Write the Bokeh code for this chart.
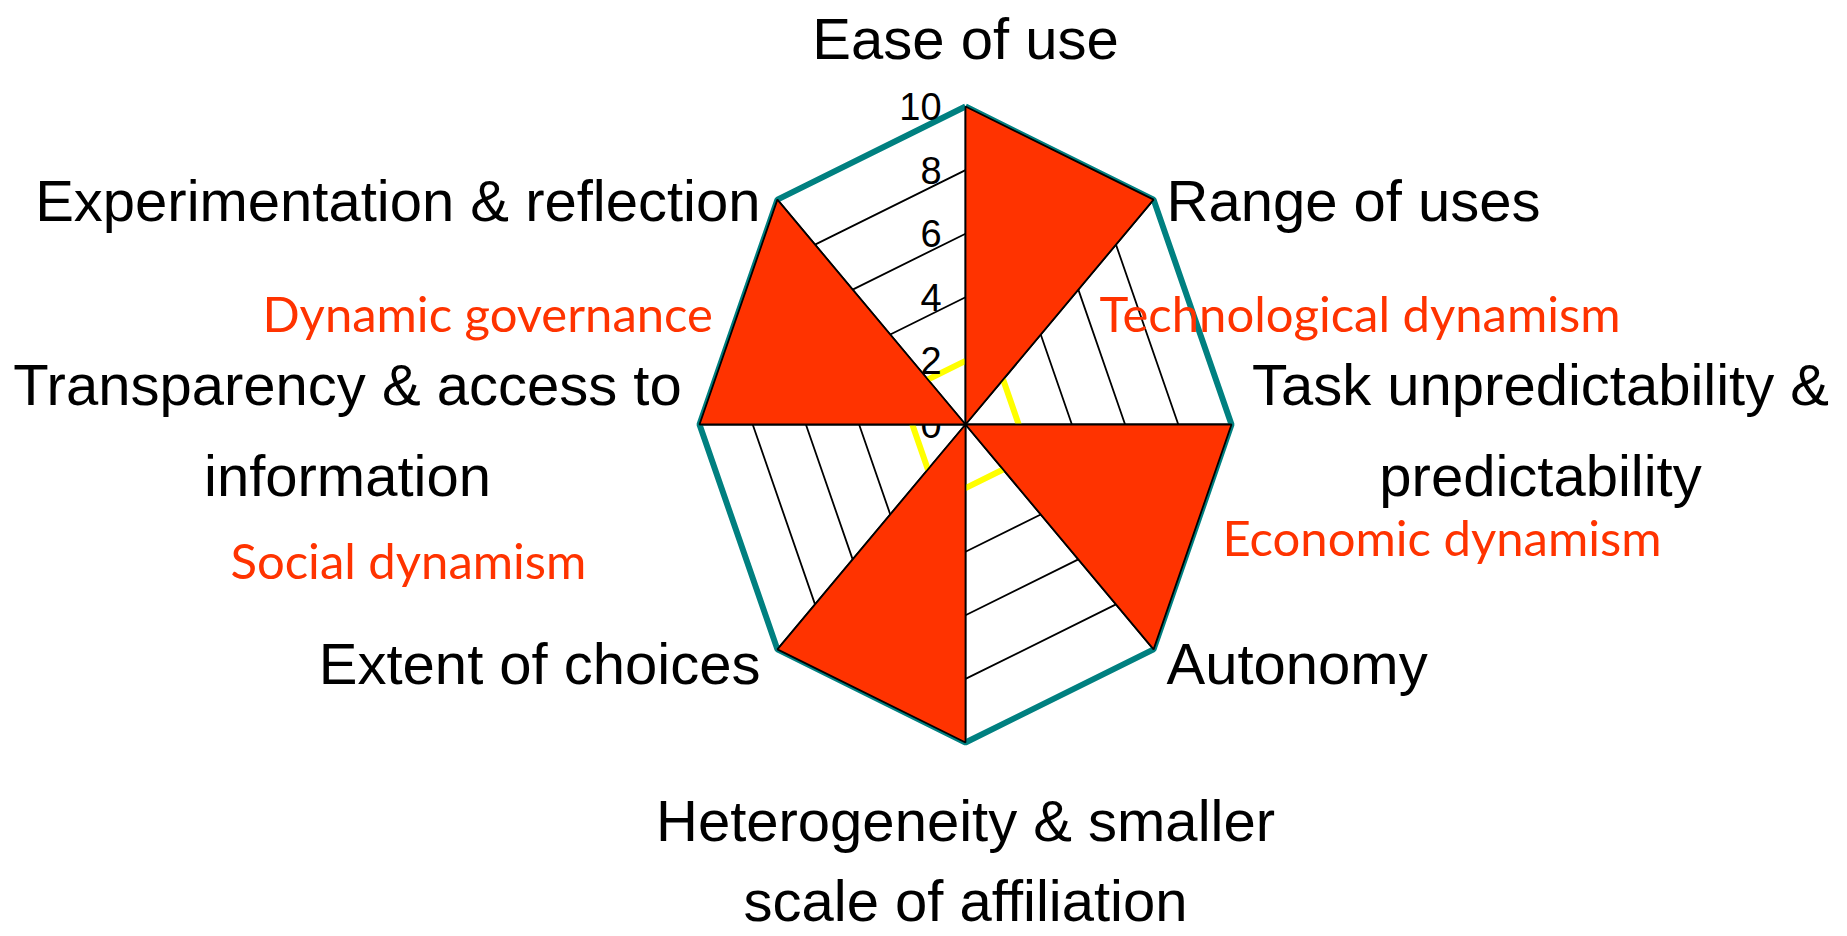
import numpy as np
from bokeh.plotting import figure
from bokeh.models import Range1d
from bokeh.core.properties import value
from bokeh.embed import file_html
from bokeh.resources import INLINE

# ---------------- data ----------------
categories = [
    "Ease of use",
    "Range of uses",
    "Task unpredictability & predictability",
    "Autonomy",
    "Heterogeneity & smaller scale of affiliation",
    "Extent of choices",
    "Transparency & access to information",
    "Experimentation & reflection",
]
outer_series = [10, 10, 10, 10, 10, 10, 10, 10]   # teal ring
inner_series = [2, 2, 2, 2, 2, 2, 2, 2]           # yellow ring
grid_levels = [4, 6, 8]
tick_values = [0, 2, 4, 6, 8, 10]
tick_labels = ["0", "2", "4", "6", "8", "10"]
wedge_pairs = [(0, 1), (2, 3), (4, 5), (6, 7)]     # filled red sectors
wedge_values = [10, 10, 10, 10]
dimension_labels = ["Dynamic governance", "Technological dynamism",
                    "Economic dynamism", "Social dynamism"]

# ---------------- layout ----------------
W, H = 1847, 936
CX, CY = 965, 424          # centre in pixels (from top-left)
SX, SY = 26.6, 31.8        # pixels per value unit
x0 = -CX / SX
x1 = (W - CX) / SX
y1 = CY / SY
y0 = -(H - CY) / SY

CAT_FONT = "Liberation Sans"
CAT_SIZE = 58
DIM_FONT = "Lato"
DIM_SIZE = 49

def px(xp):   # pixel-x -> data
    return (xp - CX) / SX

def pyb(yp, size):   # baseline pixel-y -> data y for a 'middle' anchored text
    return (CY - (yp - 0.35 * size)) / SY

n = len(categories)
theta = np.pi / 2 - np.arange(n) * 2 * np.pi / n

def ring(vals):
    v = np.asarray(vals, dtype=float)
    xs = list(v * np.cos(theta)) + [v[0] * np.cos(theta[0])]
    ys = list(v * np.sin(theta)) + [v[0] * np.sin(theta[0])]
    return xs, ys

p = figure(width=W, height=H, x_range=Range1d(x0, x1), y_range=Range1d(y0, y1),
           output_backend="svg", toolbar_location=None, min_border=0)
p.axis.visible = False
p.grid.visible = False
p.outline_line_color = None
p.background_fill_color = "white"

# grid rings
for lv in grid_levels:
    gx, gy = ring([lv] * n)
    p.line(gx, gy, line_color="black", line_width=1.8)

# spokes
for i in range(n):
    p.line([0, outer_series[i] * np.cos(theta[i])], [0, outer_series[i] * np.sin(theta[i])],
           line_color="black", line_width=1.8)

# yellow series
yx, yy = ring(inner_series)
p.line(yx, yy, line_color="#FFFF00", line_width=6)

# teal series
tx, ty = ring(outer_series)
p.line(tx, ty, line_color="#008080", line_width=6)

# value axis tick labels
p.text(x=[-0.9] * len(tick_values), y=tick_values, text=tick_labels,
       text_font=value(CAT_FONT), text_font_size="38px",
       text_align="right", text_baseline="middle", text_color="black")

# red sectors
wx, wy = [], []
for (a, b), v in zip(wedge_pairs, wedge_values):
    wx.append([0, v * np.cos(theta[a]), v * np.cos(theta[b])])
    wy.append([0, v * np.sin(theta[a]), v * np.sin(theta[b])])
p.patches(wx, wy, fill_color="#FF3300", line_color="black", line_width=1.8)

# category labels (pixel coordinates of baselines)
cat_lines = [
    (["Ease of use"], 965, [58], "center"),
    (["Range of uses"], 1166, [220], "left"),
    (["Task unpredictability &", "predictability"], 1540, [404, 495], "center"),
    (["Autonomy"], 1166, [683], "left"),
    (["Heterogeneity & smaller", "scale of affiliation"], 965, [840, 920], "center"),
    (["Extent of choices"], 760, [683], "right"),
    (["Transparency & access to", "information"], 347, [404, 495], "center"),
    (["Experimentation & reflection"], 760, [220], "right"),
]
for lines, xp, yps, align in cat_lines:
    p.text(x=[px(xp)] * len(lines), y=[pyb(v, CAT_SIZE) for v in yps], text=lines,
           text_font=value(CAT_FONT), text_font_size=f"{CAT_SIZE}px",
           text_align=align, text_baseline="middle", text_color="black")

# dimension labels
dim_pos = [(262, 330), (1099, 330), (1222, 554), (230, 577)]
p.text(x=[px(a) for a, b in dim_pos], y=[pyb(b, DIM_SIZE) for a, b in dim_pos],
       text=dimension_labels,
       text_font=value(DIM_FONT), text_font_size=f"{DIM_SIZE}px",
       text_align="left", text_baseline="middle", text_color="#FF3300")

open("out.html", "w").write(file_html(p, INLINE))
